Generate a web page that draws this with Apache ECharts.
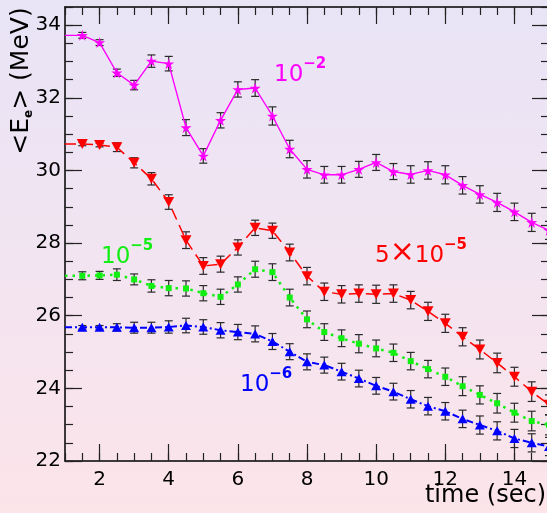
<!DOCTYPE html>
<html>
<head>
<meta charset="utf-8">
<script src="https://cdn.jsdelivr.net/npm/echarts@6/dist/echarts.min.js"></script>
<style>
html,body{margin:0;padding:0;}
#c{width:547px;height:513px;background:linear-gradient(to bottom,#e8e4f6 0%,#f2e4f1 50%,#fce4e9 100%);}
</style>
</head>
<body>
<div id="c"></div>
<script>
// ---- data ----
const time = [1,1.5,2,2.5,3,3.5,4,4.5,5,5.5,6,6.5,7,7.5,8,8.5,9,9.5,10,10.5,11,11.5,12,12.5,13,13.5,14,14.5,15];
const e1e2 = [33.72,33.72,33.52,32.69,32.35,33.01,32.94,31.18,30.40,31.38,32.23,32.27,31.50,30.59,30.03,29.88,29.88,30.03,30.22,29.97,29.89,30.00,29.88,29.59,29.34,29.12,28.86,28.57,28.35];
const e1e2Err = [0,0.08,0.08,0.10,0.13,0.17,0.20,0.22,0.20,0.21,0.21,0.23,0.25,0.24,0.24,0.23,0.23,0.22,0.22,0.22,0.24,0.24,0.25,0.24,0.24,0.25,0.24,0.25,0.25];
const e5e5 = [30.73,30.73,30.70,30.64,30.21,29.77,29.13,28.08,27.37,27.42,27.88,28.42,28.34,27.74,27.09,26.66,26.59,26.61,26.59,26.61,26.43,26.12,25.79,25.42,25.07,24.70,24.32,23.91,23.55];
const e5e5Err = [0,0.05,0.05,0.12,0.14,0.17,0.20,0.23,0.23,0.22,0.21,0.21,0.21,0.23,0.24,0.24,0.24,0.24,0.25,0.24,0.24,0.25,0.25,0.25,0.26,0.27,0.26,0.27,0.27];
const e1e5 = [27.10,27.10,27.11,27.13,27.00,26.82,26.76,26.75,26.62,26.52,26.86,27.28,27.20,26.50,25.90,25.55,25.38,25.23,25.10,24.98,24.75,24.53,24.32,24.06,23.82,23.59,23.33,23.10,22.99];
const e1e5Err = [0,0.11,0.11,0.16,0.15,0.17,0.21,0.21,0.21,0.21,0.21,0.22,0.23,0.23,0.23,0.23,0.23,0.25,0.23,0.24,0.24,0.24,0.24,0.26,0.25,0.27,0.26,0.27,0.27];
const e1e6 = [25.68,25.68,25.68,25.68,25.67,25.67,25.69,25.73,25.69,25.60,25.55,25.50,25.29,25.01,24.73,24.64,24.46,24.27,24.07,23.91,23.70,23.51,23.37,23.16,22.99,22.83,22.62,22.50,22.40];
const e1e6Err = [0,0.05,0.05,0.10,0.15,0.15,0.17,0.20,0.20,0.21,0.21,0.22,0.22,0.22,0.22,0.22,0.23,0.23,0.23,0.23,0.24,0.24,0.24,0.24,0.25,0.25,0.25,0.25,0.25];
const xTicks = [2,4,6,8,10,12,14];
const yTicks = [22,24,26,28,30,32,34];

const FONT = 'DejaVu Sans';
const chart = echarts.init(document.getElementById('c'), null, {renderer:'canvas'});

function lineData(vals){
  return time.map((t,i)=> i===0 ? {value:[t,vals[i]], symbol:'none'} : [t,vals[i]]);
}
function errData(vals, errs){
  return time.map((t,i)=>[t, vals[i]-errs[i], vals[i]+errs[i]]);
}
function errSeries(vals, errs){
  return {
    type:'custom', xAxisIndex:0, yAxisIndex:0, z:1, clip:true, silent:true,
    data: errData(vals, errs),
    renderItem: function(params, api){
      const x = api.value(0), lo = api.value(1), hi = api.value(2);
      if (hi - lo <= 0) return null;
      const p1 = api.coord([x, lo]), p2 = api.coord([x, hi]);
      const hw = 4;
      const st = {stroke:'#2a2a2a', lineWidth:1.2};
      return {type:'group', children:[
        {type:'line', shape:{x1:p1[0],y1:p1[1],x2:p2[0],y2:p2[1]}, style:st},
        {type:'line', shape:{x1:p1[0]-hw,y1:p1[1],x2:p1[0]+hw,y2:p1[1]}, style:st},
        {type:'line', shape:{x1:p2[0]-hw,y1:p2[1],x2:p2[0]+hw,y2:p2[1]}, style:st}
      ]};
    }
  };
}
const STAR = 'path://M50,0 L61,35 L98,35 L68,57 L79,91 L50,70 L21,91 L32,57 L2,35 L39,35 Z';

function xAx(pos, major){
  return {
    type:'value', min:1, max:15, position:pos,
    interval: major ? 2 : 0.5,
    axisLine:{show: major, onZero:false, lineStyle:{color:'#000', width:1.5}},
    axisTick:{show:true, inside:true, length: major?17:8, lineStyle:{color:'#222', width:1.2},
      customValues: major ? xTicks : undefined},
    axisLabel:{show: major && pos==='bottom', margin:9, color:'#000', fontFamily:FONT, fontSize:20,
      customValues: major ? xTicks : undefined},
    splitLine:{show:false}
  };
}
function yAx(pos, major){
  return {
    type:'value', min:22, max:34.5, position:pos,
    interval: major ? 2 : 0.5,
    axisLine:{show: major, onZero:false, lineStyle:{color:'#000', width:1.5}},
    axisTick:{show:true, inside:true, length: major?17:8, lineStyle:{color:'#222', width:1.2},
      customValues: major ? yTicks : undefined},
    axisLabel:{show: major && pos==='left', margin:4, color:'#000', fontFamily:FONT, fontSize:20,
      customValues: major ? yTicks : undefined},
    splitLine:{show:false}
  };
}
function supLabel(x, y, main, sup, color){
  return {type:'text', x:x, y:y, z:10,
    style:{text:main + '{s|' + sup + '}', fill:color, align:'left', verticalAlign:'top',
      rich:{b:{fontFamily:FONT, fontSize:23, lineHeight:30, verticalAlign:'bottom', fill:color},
            x:{fontFamily:FONT, fontSize:30, lineHeight:30, verticalAlign:'bottom', fill:color},
            s:{fontFamily:FONT, fontSize:15, fontWeight:'bold', lineHeight:14, verticalAlign:'top', fill:color}}}};
}

const option = {
  backgroundColor:'transparent',
  animation:false,
  grid:{left:65, right:-2, top:7, bottom:52, containLabel:false, outerBoundsMode:'none'},
  xAxis:[xAx('bottom',true), xAx('bottom',false), xAx('top',true), xAx('top',false)],
  yAxis:[yAx('left',true), yAx('left',false), yAx('right',true), yAx('right',false)],
  series:[
    errSeries(e1e2, e1e2Err),
    errSeries(e5e5, e5e5Err),
    errSeries(e1e5, e1e5Err),
    errSeries(e1e6, e1e6Err),
    {type:'line', z:3, data: lineData(e1e2), symbol:STAR, symbolSize:11,
      itemStyle:{color:'#ff00ff'}, lineStyle:{color:'#ff00ff', width:1.4, type:'solid'}},
    {type:'line', z:3, data: lineData(e5e5), symbol:'triangle', symbolRotate:180, symbolSize:[11,10],
      itemStyle:{color:'#ff0000'}, lineStyle:{color:'#ff0000', width:1.5, type:[11,6]}},
    {type:'line', z:3, data: lineData(e1e5), symbol:'rect', symbolSize:6,
      itemStyle:{color:'#11ee11'}, lineStyle:{color:'#11ee11', width:2.5, type:[2.5,5]}},
    {type:'line', z:3, data: lineData(e1e6), symbol:'triangle', symbolSize:[10,9],
      itemStyle:{color:'#0000ff'}, lineStyle:{color:'#0000ff', width:2, type:[7,3,2,3]}}
  ],
  graphic:[
    {type:'text', x:21, y:81, rotation:Math.PI/2, z:10,
      style:{text:'{n|<E}{s|e}{n|> (MeV)}', fill:'#000', align:'center', verticalAlign:'middle',
        rich:{n:{fontFamily:FONT, fontSize:25, lineHeight:28, fill:'#000'},
              s:{fontFamily:FONT, fontSize:12, fontWeight:'bold', lineHeight:13, verticalAlign:'bottom', fill:'#000'}}}},
    {type:'text', x:546, y:496, z:10,
      style:{text:'time (sec)', fill:'#000', fontFamily:FONT, fontSize:24, align:'right', verticalAlign:'middle'}},
    supLabel(274, 57, '{b|10}', '−2', '#ff00ff'),
    supLabel(101, 239, '{b|10}', '−5', '#11ee11'),
    supLabel(375, 238, '{b|5}{x|×}{b|10}', '−5', '#ff0000'),
    supLabel(240, 367, '{b|10}', '−6', '#0000ff')
  ]
};
chart.setOption(option);
</script>
</body>
</html>
